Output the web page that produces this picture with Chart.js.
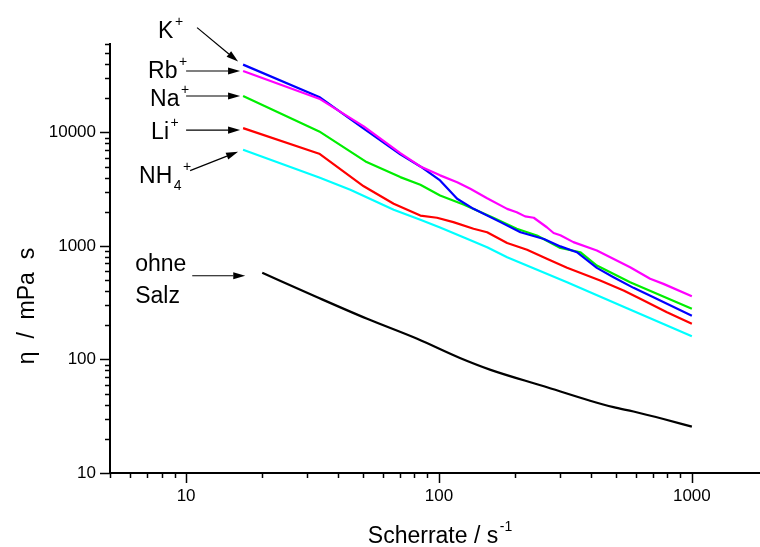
<!DOCTYPE html>
<html>
<head>
<meta charset="utf-8">
<script src="https://cdn.jsdelivr.net/npm/chart.js@4.4.1/dist/chart.umd.min.js"></script>
<style>
  html, body { margin: 0; padding: 0; background: #fff; }
  canvas { display: block; }
</style>
</head>
<body>
<canvas id="grafico-viskositaet" width="760" height="547"></canvas>
<script>
const FONT = '"Liberation Sans", Arial, Helvetica, sans-serif';

// Scherrate / s^-1 und Viskositaet / mPa s
const rateRb = [16.8, 33.6, 50.4, 70.3, 84.4, 101, 118, 133, 155, 186, 203, 219, 237, 267, 284, 302, 340, 421, 570, 684, 772, 1000];
const etaRb  = [34700, 19800, 11300, 6570, 5010, 4180, 3640, 3190, 2630, 2120, 1980, 1820, 1770, 1460, 1300, 1240, 1080, 911, 649, 513, 463, 360];

const rateK = [16.8, 33.6, 50.4, 70.3, 84.4, 101, 118, 137, 175, 210, 260, 302, 351, 421, 490, 588, 705, 1000];
const etaK  = [39500, 20500, 10800, 6400, 5010, 3770, 2600, 2120, 1620, 1320, 1150, 990, 880, 640, 530, 427, 353, 243];

const rateNa = [16.8, 33.6, 51.2, 70.3, 84.4, 101, 125, 164, 203, 244, 302, 362, 421, 570, 1000];
const etaNa  = [20900, 10200, 5550, 4035, 3460, 2780, 2320, 1770, 1415, 1235, 960, 880, 672, 479, 279];

const rateLi = [16.8, 33.6, 50.4, 66.2, 84.4, 98.2, 114, 137, 155, 186, 223, 267, 321, 434, 537, 625, 797, 1000];
const etaLi  = [10900, 6490, 3350, 2350, 1850, 1770, 1620, 1415, 1320, 1060, 924, 769, 641, 495, 404, 342, 260, 206];

const rateNH4 = [16.8, 33.6, 44.6, 66.2, 84.4, 101, 129, 155, 186, 321, 554, 1000];
const etaNH4  = [7040, 4010, 3120, 2080, 1700, 1450, 1155, 974, 795, 479, 282, 160];

const rateOhne = [20, 33, 52, 82, 121, 160, 260, 396, 490, 588, 772, 1000];
const etaOhne  = [580, 353, 228, 152, 103, 81, 58, 43.3, 38, 34.8, 29.9, 25.6];

const seriesNames  = ['Rb+', 'K+', 'Na+', 'Li+', 'NH4+', 'ohne Salz'];
const seriesColors = ['#ff00ff', '#0000ff', '#00ee00', '#ff0000', '#00ffff', '#000000'];
const seriesRates  = [rateRb, rateK, rateNa, rateLi, rateNH4, rateOhne];
const seriesEtas   = [etaRb, etaK, etaNa, etaLi, etaNH4, etaOhne];

const xMajorTicks = [10, 100, 1000];
const yMajorTicks = [10, 100, 1000, 10000];
const xRange = [5, 1860];
const yRange = [10, 60000];

function logTicks(min, max) {
    const out = [];
    for (let e = Math.floor(Math.log10(min)); e <= Math.ceil(Math.log10(max)); e++) {
        for (let m = 1; m <= 9; m++) {
            const v = Math.round(m * Math.pow(10, e) * 1000) / 1000;
            if (v >= min && v <= max) out.push(v);
        }
    }
    return out;
}

// Beschriftungen mit Hoch-/Tiefstellung: [Text, 0 normal | 1 hoch | 2 tief]
function drawRich(ctx, parts, x, y, align) {
    const widths = parts.map(([t, k]) => {
        ctx.font = (k ? 14 : 23) + 'px ' + FONT;
        return ctx.measureText(t).width + (k ? 1.5 : 0);
    });
    const total = widths.reduce((a, b) => a + b, 0);
    let cx = align === 'center' ? x - total / 2 : x;
    parts.forEach(([t, k], i) => {
        ctx.font = (k ? 14 : 23) + 'px ' + FONT;
        const dy = k === 1 ? -12 : (k === 2 ? 7 : 0);
        ctx.fillText(t, cx + (k ? 1.5 : 0), y + dy);
        cx += widths[i];
    });
}

function drawArrow(ctx, x1, y1, x2, y2) {
    const ang = Math.atan2(y2 - y1, x2 - x1);
    const hl = 12, hw = 3.6;
    ctx.beginPath();
    ctx.moveTo(x1, y1);
    ctx.lineTo(x2 - hl * Math.cos(ang), y2 - hl * Math.sin(ang));
    ctx.stroke();
    ctx.beginPath();
    ctx.moveTo(x2, y2);
    ctx.lineTo(x2 - hl * Math.cos(ang) + hw * Math.sin(ang), y2 - hl * Math.sin(ang) - hw * Math.cos(ang));
    ctx.lineTo(x2 - hl * Math.cos(ang) - hw * Math.sin(ang), y2 - hl * Math.sin(ang) + hw * Math.cos(ang));
    ctx.closePath();
    ctx.fill();
}

// Pfeile und Texte relativ zum ersten Messpunkt der jeweiligen Kurve
const callouts = [
    { idx: 1, lines: [[['K', 0], ['+', 1]]], text: [-85, -27], tail: [-46, -37], tip: [-5, -3] },
    { idx: 0, lines: [[['Rb', 0], ['+', 1]]], text: [-95, 7], tail: [-57, 0], tip: [-3, 0] },
    { idx: 2, lines: [[['Na', 0], ['+', 1]]], text: [-93, 10], tail: [-57, 0], tip: [-3, 0] },
    { idx: 3, lines: [[['Li', 0], ['+', 1]]], text: [-92, 11], tail: [-57, 2], tip: [-3, 2] },
    { idx: 4, lines: [[['NH', 0], ['4', 2], ['+', 1]]], text: [-104, 33], tail: [-53, 21], tip: [-5, 2] },
    { idx: 5, lines: [[['ohne', 0]], [['Salz', 0]]], text: [-127, -2], tail: [-70, 3], tip: [-17, 3] }
];

const overlayPlugin = {
    id: 'overlay',
    afterDraw(chart) {
        const ctx = chart.ctx;
        const xs = chart.scales.x, ys = chart.scales.y;
        const area = chart.chartArea;
        const isMajor = v => Math.abs(Math.log10(v) - Math.round(Math.log10(v))) < 1e-9;
        ctx.save();
        ctx.strokeStyle = '#000';
        ctx.fillStyle = '#000';
        ctx.lineWidth = 1.5;
        xs.ticks.forEach(t => {
            const px = Math.round(xs.getPixelForValue(t.value)) + 0.5;
            const len = isMajor(t.value) ? 10 : 5;
            ctx.beginPath();
            ctx.moveTo(px, area.bottom);
            ctx.lineTo(px, area.bottom + len);
            ctx.stroke();
        });
        ys.ticks.forEach(t => {
            const py = Math.round(ys.getPixelForValue(t.value)) + 0.5;
            const len = isMajor(t.value) ? 10 : 5;
            ctx.beginPath();
            ctx.moveTo(area.left, py);
            ctx.lineTo(area.left - len, py);
            ctx.stroke();
        });

        ctx.lineWidth = 1.2;
        ctx.textBaseline = 'alphabetic';
        ctx.textAlign = 'left';
        callouts.forEach(c => {
            const px = xs.getPixelForValue(seriesRates[c.idx][0]);
            const py = ys.getPixelForValue(seriesEtas[c.idx][0]);
            c.lines.forEach((parts, i) => {
                drawRich(ctx, parts, px + c.text[0], py + c.text[1] + i * 32, 'left');
            });
            drawArrow(ctx, px + c.tail[0], py + c.tail[1], px + c.tip[0], py + c.tip[1]);
        });

        // Achsentitel
        drawRich(ctx, [['Scherrate / s', 0], ['-1', 1]], (area.left + area.right) / 2 + 5, 543, 'center');
        ctx.translate(34, 306);
        ctx.rotate(-Math.PI / 2);
        drawRich(ctx, [['η  /  mPa  s', 0]], 0, 0, 'center');
        ctx.restore();
    }
};

const datasets = seriesNames.map((name, i) => ({
    label: name,
    data: seriesRates[i].map((r, j) => ({ x: r, y: seriesEtas[i][j] })),
    borderColor: seriesColors[i],
    backgroundColor: seriesColors[i],
    borderWidth: 2.2,
    pointRadius: 0,
    showLine: true,
    tension: 0,
    cubicInterpolationMode: name === 'ohne Salz' ? 'monotone' : 'default',
    borderJoinStyle: 'round'
}));

const tickFont = { family: FONT, size: 17 };

new Chart(document.getElementById('grafico-viskositaet').getContext('2d'), {
    type: 'scatter',
    data: { datasets },
    plugins: [overlayPlugin],
    options: {
        responsive: false,
        animation: false,
        devicePixelRatio: 1,
        layout: { padding: { top: 44, left: 0, right: 0, bottom: 0 } },
        plugins: { legend: { display: false }, tooltip: { enabled: false } },
        scales: {
            x: {
                type: 'logarithmic',
                min: xRange[0],
                max: xRange[1],
                afterBuildTicks: scale => { scale.ticks = logTicks(xRange[0], xRange[1]).map(v => ({ value: v })); },
                afterFit: scale => { scale.height = 74; },
                grid: { display: false, drawTicks: false },
                border: { display: true, color: '#000', width: 2 },
                ticks: {
                    autoSkip: false,
                    maxRotation: 0,
                    padding: 13,
                    color: '#000',
                    font: tickFont,
                    callback: v => xMajorTicks.includes(v) ? String(v) : ''
                }
            },
            y: {
                type: 'logarithmic',
                min: yRange[0],
                max: yRange[1],
                afterBuildTicks: scale => { scale.ticks = logTicks(yRange[0], yRange[1]).map(v => ({ value: v })); },
                afterFit: scale => { scale.width = 110; },
                grid: { display: false, drawTicks: false },
                border: { display: true, color: '#000', width: 2 },
                ticks: {
                    autoSkip: false,
                    padding: 14,
                    color: '#000',
                    font: tickFont,
                    callback: v => yMajorTicks.includes(v) ? String(v) : ''
                }
            }
        }
    }
});
</script>
</body>
</html>
